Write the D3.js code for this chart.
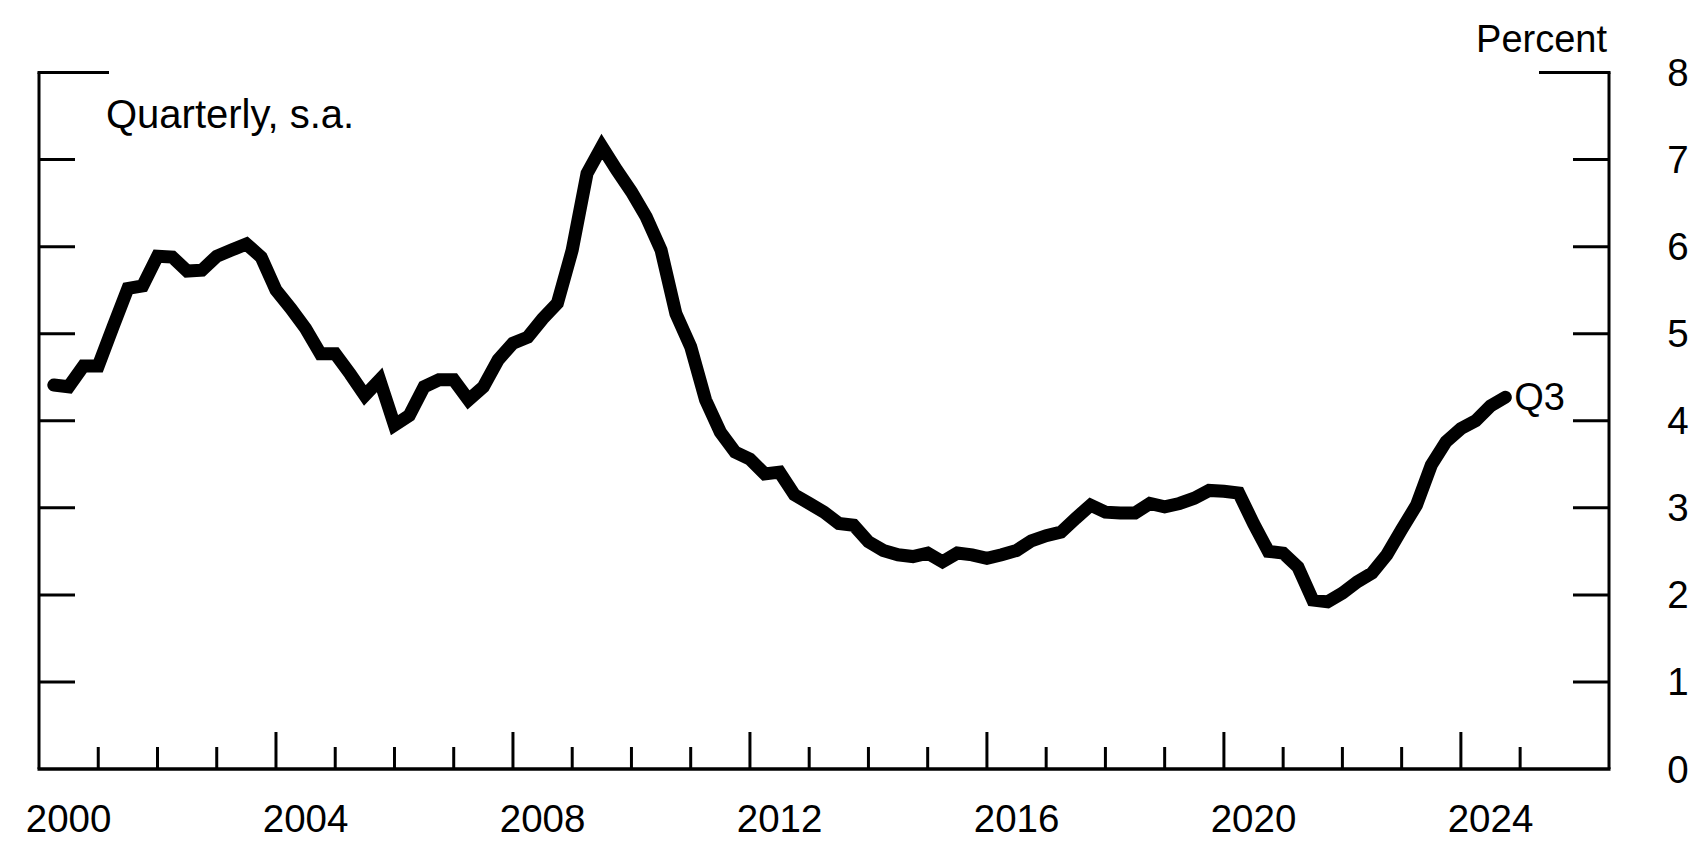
<!DOCTYPE html>
<html>
<head>
<meta charset="utf-8">
<script src="https://cdn.jsdelivr.net/npm/d3@7"></script>
<style>
  html, body { margin: 0; padding: 0; background: #fff; }
  svg { display: block; }
  text { font-family: "Liberation Sans", Arial, Helvetica, sans-serif; fill: #000; }
</style>
</head>
<body>
<svg id="chart" width="1707" height="854"></svg>
<script>
// ---- data ----
const firstYear = 2000;           // series starts 2000:Q1
const values = [
  4.41, 4.39, 4.63, 4.63,   // 2000
  5.08, 5.52, 5.55, 5.89,   // 2001
  5.88, 5.72, 5.73, 5.89,   // 2002
  5.96, 6.03, 5.88, 5.50,   // 2003
  5.29, 5.06, 4.77, 4.77,   // 2004
  4.54, 4.29, 4.47, 3.95,   // 2005
  4.06, 4.39, 4.47, 4.47,   // 2006
  4.24, 4.39, 4.70, 4.89,   // 2007
  4.96, 5.17, 5.35, 5.96,   // 2008
  6.84, 7.15, 6.88, 6.63,   // 2009
  6.34, 5.96, 5.23, 4.85,   // 2010
  4.24, 3.87, 3.64, 3.56,   // 2011
  3.39, 3.41, 3.15, 3.05,   // 2012
  2.95, 2.82, 2.80, 2.61,   // 2013
  2.51, 2.46, 2.44, 2.48,   // 2014
  2.38, 2.48, 2.46, 2.42,   // 2015
  2.46, 2.51, 2.62, 2.68,   // 2016
  2.72, 2.88, 3.03, 2.95,   // 2017
  2.94, 2.94, 3.05, 3.01,   // 2018
  3.05, 3.11, 3.20, 3.19,   // 2019
  3.17, 2.82, 2.50, 2.48,   // 2020
  2.32, 1.94, 1.92, 2.02,   // 2021
  2.15, 2.25, 2.46, 2.75,   // 2022
  3.03, 3.49, 3.76, 3.91,   // 2023
  4.00, 4.17, 4.27          // 2024 (Q1-Q3)
];
const yearLabels = [2000, 2004, 2008, 2012, 2016, 2020, 2024];
const minorYears = [2001,2002,2003,2005,2006,2007,2009,2010,2011,2013,2014,2015,2017,2018,2019,2021,2022,2023,2025];
const majorYears = [2004, 2008, 2012, 2016, 2020, 2024];
const yTicks = [1, 2, 3, 4, 5, 6, 7];
const yLabels = [0, 1, 2, 3, 4, 5, 6, 7, 8];
const unitsLabel = "Percent";
const noteLabel = "Quarterly, s.a.";
const endLabel = "Q3";

(function () {
// ---- layout ----
const pL = 39, pR = 1609, pT = 72.5, pB = 769;
const x = d3.scaleLinear().domain([2000, 2026.5]).range([pL, pR]);
const y = d3.scaleLinear().domain([0, 8]).range([pB, pT]);

const svg = d3.select("#chart");
const FONT = 38.5;
const TICK = 36;

const series = values.map((v, i) => ({ t: firstYear + (i + 1) / 4, v }));

// frame
const g = svg.append("g").attr("stroke", "#000").attr("fill", "none");
g.append("line").attr("x1", pL).attr("x2", pL).attr("y1", pT).attr("y2", pB).attr("stroke-width", 3);
g.append("line").attr("x1", pR).attr("x2", pR).attr("y1", pT).attr("y2", pB).attr("stroke-width", 3);
g.append("line").attr("x1", pL - 1.5).attr("x2", pR + 1.5).attr("y1", pB).attr("y2", pB).attr("stroke-width", 3.5);
// top (8) ticks, double length
g.append("line").attr("x1", pL - 1.5).attr("x2", pL + 2 * TICK - 2).attr("y1", y(8)).attr("y2", y(8)).attr("stroke-width", 3);
g.append("line").attr("x1", pR + 1.5).attr("x2", pR - 2 * TICK + 2).attr("y1", y(8)).attr("y2", y(8)).attr("stroke-width", 3);

// y ticks both sides
g.selectAll(".yl").data(yTicks).join("line").attr("class", "yl")
  .attr("x1", pL).attr("x2", pL + TICK)
  .attr("y1", d => y(d)).attr("y2", d => y(d)).attr("stroke-width", 3);
g.selectAll(".yr").data(yTicks).join("line").attr("class", "yr")
  .attr("x1", pR).attr("x2", pR - TICK)
  .attr("y1", d => y(d)).attr("y2", d => y(d)).attr("stroke-width", 3);

// x ticks
g.selectAll(".xmin").data(minorYears).join("line").attr("class", "xmin")
  .attr("x1", d => x(d)).attr("x2", d => x(d))
  .attr("y1", pB).attr("y2", pB - 22).attr("stroke-width", 3);
g.selectAll(".xmaj").data(majorYears).join("line").attr("class", "xmaj")
  .attr("x1", d => x(d)).attr("x2", d => x(d))
  .attr("y1", pB).attr("y2", pB - 37).attr("stroke-width", 3);

// x labels at mid-year
svg.selectAll(".xlab").data(yearLabels).join("text").attr("class", "xlab")
  .attr("x", d => x(d + 0.5)).attr("y", 832)
  .attr("text-anchor", "middle").attr("font-size", FONT)
  .text(d => d);

// y labels on right
svg.selectAll(".ylab").data(yLabels).join("text").attr("class", "ylab")
  .attr("x", 1678).attr("y", d => y(d))
  .attr("text-anchor", "middle").attr("dominant-baseline", "central")
  .attr("font-size", FONT)
  .text(d => d);

svg.append("text").attr("x", 1607).attr("y", 52).attr("text-anchor", "end")
  .attr("font-size", 38).text(unitsLabel);
svg.append("text").attr("x", 106).attr("y", 128)
  .attr("font-size", 40).text(noteLabel);

// series line
const line = d3.line().x(d => x(d.t)).y(d => y(d.v));
svg.append("path").datum(series)
  .attr("d", line)
  .attr("fill", "none").attr("stroke", "#000")
  .attr("stroke-width", 13)
  .attr("stroke-linecap", "round")
  .attr("stroke-linejoin", "miter")
  .attr("stroke-miterlimit", 3);

const last = series[series.length - 1];
svg.append("text").attr("x", x(last.t) + 9).attr("y", y(last.v))
  .attr("dominant-baseline", "central").attr("font-size", 38)
  .text(endLabel);
})();
</script>
</body>
</html>
